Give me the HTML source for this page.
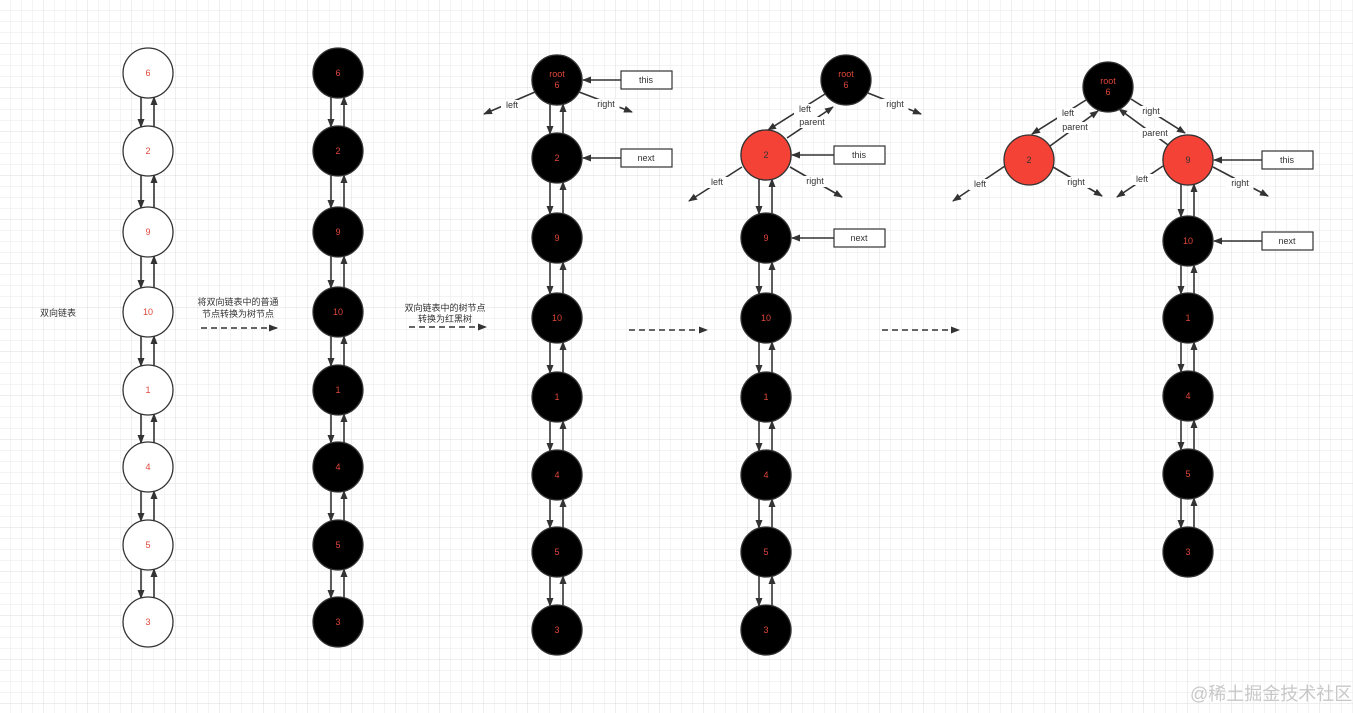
<!DOCTYPE html>
<html><head><meta charset="utf-8"><style>
html,body{margin:0;padding:0;background:#fff;}
svg{display:block;}
text{font-family:"Liberation Sans","Noto Sans CJK SC",sans-serif;}
</style></head><body>
<svg id="s" width="1353" height="713" xmlns="http://www.w3.org/2000/svg">
<defs>
<pattern id="g" width="11" height="11" patternUnits="userSpaceOnUse"><path d="M11 0V11H0" fill="none" stroke="#e8e8e8" stroke-width="1"/></pattern>
<pattern id="G" width="44" height="44" patternUnits="userSpaceOnUse"><path d="M44 0V44H0" fill="none" stroke="#dcdcdc" stroke-width="1"/></pattern>
<marker id="a" markerWidth="9" markerHeight="8" refX="8" refY="4" orient="auto" markerUnits="userSpaceOnUse"><path d="M0,0.5L9,4L0,7.5Z" fill="#333"/></marker>
</defs>
<rect width="1353" height="713" fill="url(#g)"/>
<rect width="1353" height="713" fill="url(#G)"/>
<g id="c"></g>
<text x="40" y="316" font-size="9" fill="#333">双向链表</text>
<text x="238" y="305" font-size="9" fill="#333" text-anchor="middle">将双向链表中的普通</text>
<text x="238" y="317" font-size="9" fill="#333" text-anchor="middle">节点转换为树节点</text>
<text x="445" y="311" font-size="9" fill="#333" text-anchor="middle">双向链表中的树节点</text>
<text x="445" y="322" font-size="9" fill="#333" text-anchor="middle">转换为红黑树</text>
<text x="1190" y="700" font-size="18" fill="#c8c8c8">@稀土掘金技术社区</text>
</svg>
<script>
var g=document.getElementById('c'),h='';
function L(x1,y1,x2,y2,d){h+='<line x1="'+x1+'" y1="'+y1+'" x2="'+x2+'" y2="'+y2+'" stroke="#333" stroke-width="1.6"'+(d?' stroke-dasharray="6,4"':'')+' marker-end="url(#a)"/>';}
function C(x,y,f,t,t2){h+='<circle cx="'+x+'" cy="'+y+'" r="25" fill="'+f+'" stroke="#333" stroke-width="1.3"/>';
 if(t2){h+='<text x="'+x+'" y="'+(y-3)+'" font-size="9" fill="#e0463a" text-anchor="middle">'+t+'</text><text x="'+x+'" y="'+(y+8)+'" font-size="9" fill="#e0463a" text-anchor="middle">'+t2+'</text>';}
 else h+='<text x="'+x+'" y="'+(y+3)+'" font-size="9" fill="'+(f=='#f44336'?'#333':'#e0463a')+'" text-anchor="middle">'+t+'</text>';}
function T(x,y,t){h+='<text x="'+x+'" y="'+y+'" font-size="9" fill="#333" text-anchor="middle">'+t+'</text>';}
function E(x,y,t){var w=t.length*5+2;h+='<rect x="'+(x-w/2)+'" y="'+(y-8)+'" width="'+w+'" height="11" fill="#fff"/>';T(x,y,t);}
function B(x,y,t,nx){h+='<rect x="'+x+'" y="'+(y-9)+'" width="51" height="18" fill="#fff" stroke="#333" stroke-width="1.2"/>';T(x+25,y+3,t);L(x,y,nx,y);}
function chain(x,ys,labels,f){for(var i=0;i<ys.length;i++){
 if(i<ys.length-1){L(x-7,ys[i]+24,x-7,ys[i+1]-24);L(x+6,ys[i+1]-24,x+6,ys[i]+24);}}
 for(var i=0;i<ys.length;i++)C(x,ys[i],f,labels[i]);}
var lab=['6','2','9','10','1','4','5','3'];
var y1=[73,151,232,312,390,467,545,622];
chain(148,y1,lab,'#fff');chain(338,y1,lab,'#000');
var y3=[80,158,238,318,397,475,552,630];
chain(557,y3,lab,'#000');
C(557,80,'#000','root','6');
L(535,92,484,114);E(512,108,'left');L(579,92,632,112);E(606,107,'right');
B(621,80,'this',583);B(621,158,'next',583);
var y4=[155,238,318,397,475,552,630];
chain(766,y4,['2','9','10','1','4','5','3'],'#000');
C(766,155,'#f44336','2');
C(846,80,'#000','root','6');
L(825,94,768,130);L(787,138,833,107);E(805,112,'left');E(812,125,'parent');
L(868,93,921,114);E(895,107,'right');
L(742,167,689,201);E(717,185,'left');L(790,167,842,197);E(815,184,'right');
B(834,155,'this',792);B(834,238,'next',792);
var y5=[160,241,318,396,474,552];
chain(1188,y5,['9','10','1','4','5','3'],'#000');
C(1188,160,'#f44336','9');
C(1029,160,'#f44336','2');
C(1108,87,'#000','root','6');
L(1086,100,1032,134);L(1050,146,1098,111);E(1068,116,'left');E(1075,130,'parent');
L(1131,99,1185,133);L(1168,145,1119,109);E(1151,114,'right');E(1155,136,'parent');
L(1005,166,953,201);E(980,187,'left');L(1053,167,1102,196);E(1076,185,'right');
L(1163,166,1117,197);E(1142,182,'left');L(1213,167,1268,196);E(1240,186,'right');
B(1262,160,'this',1214);B(1262,241,'next',1214);
L(201,328,277,328,1);L(409,327,486,327,1);L(629,330,707,330,1);L(882,330,959,330,1);
g.innerHTML=h;
</script>
</body></html>
